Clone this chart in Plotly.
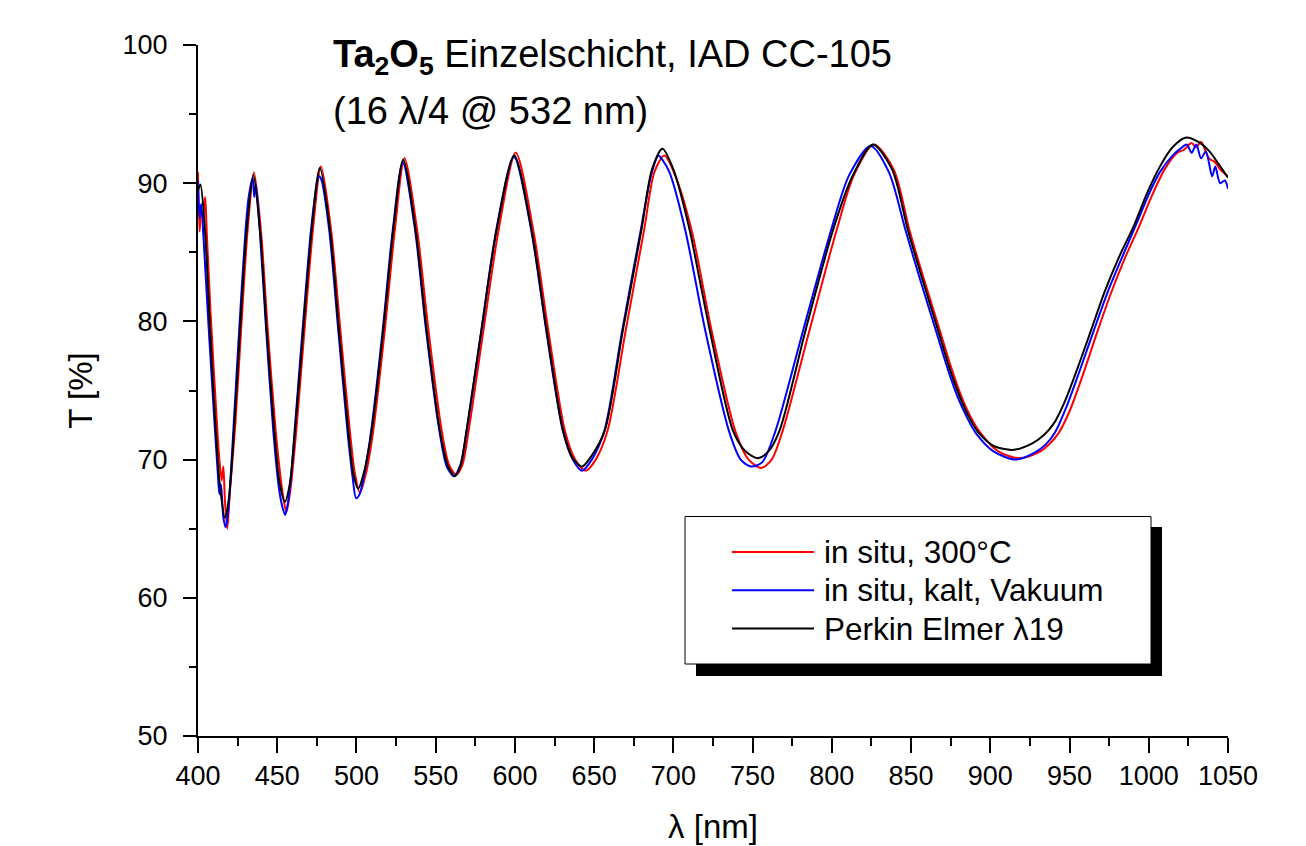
import plotly.graph_objects as go

# ---- data ----
wl_red = [400, 401, 402, 403, 404.5, 405.5, 408, 411.5, 413.5, 415, 416, 417, 418.5, 420, 423.5, 427.2, 431.3, 435.3,
          439.7, 444, 449, 452, 453.5, 455.8, 458.5, 462, 467.2, 472.5, 477.6, 484, 489.8, 495.8, 499, 502.2, 506,
          510.6, 517.9, 524.2, 530.3, 538.3, 545.4, 553.8, 558.5, 563, 566.8, 570.8, 580.2, 589.7, 600.5, 611.6,
          621, 631.5, 638, 644.7, 651, 658.5, 670, 681.5, 688, 694.3, 701, 711.5, 724, 739, 747.5, 755.5, 762, 769,
          786, 803, 814, 826.5, 839, 849, 858, 868, 875.5, 882, 888, 894, 905, 918.5, 930, 937, 943, 950, 958, 968,
          976, 985, 994, 1002, 1010, 1018, 1022, 1027, 1030, 1033, 1038, 1042, 1045, 1050]
t_red = [90.8, 86.5, 88.0, 87.5, 89.0, 86.5, 80.5, 73.5, 70.0, 68.5, 69.5, 67.0, 65.0, 67.5, 72.5, 79.4, 86.6, 90.8,
         86.6, 79.4, 72.1, 68.8, 67.5, 66.2, 68.0, 72.1, 79.4, 86.6, 91.2, 86.6, 79.4, 72.1, 69.0, 67.6, 69.0,
         72.1, 79.4, 86.6, 91.8, 86.6, 79.4, 72.1, 69.6, 68.9, 69.6, 72.1, 79.4, 86.6, 92.2, 86.6,
         79.4, 72.1, 70.0, 69.2, 70.0, 72.1, 79.4, 86.6, 90.8, 92.0, 90.6, 86.6, 79.4, 72.1, 70.0, 69.4, 70.0, 72.1,
         79.4, 86.6, 90.6, 92.8, 91.0, 86.6, 83.1, 79.4, 76.6, 74.5, 73.0, 71.9, 70.6, 70.1, 70.5, 71.1, 71.9, 73.5,
         76.0, 79.4, 82.0, 84.6, 86.9, 89.1, 91.0, 92.2, 92.4, 92.9, 92.6, 93.0, 91.8, 91.5, 91.0, 90.5]

wl_blue = [400, 401, 402, 403.5, 406.5, 410.5, 412.5, 413.5, 414.5, 416, 417.5, 419, 421.5, 422.5, 426, 430, 432,
           434.5, 435.5, 436.5, 439, 443, 447.5, 451, 453, 455, 456.5, 458.5, 461, 466, 471.3, 475.5, 476.5, 478,
           482.8, 488.5, 494.3, 497.5, 499.8, 502, 505, 509.3, 516.6, 522.9, 529.2, 537, 543.9, 552.3, 557, 561.5,
           565.5, 569.5, 578.9, 588.2, 599.4, 610.3, 619.7, 630.2, 636.5, 642.3, 648.5, 656.5, 667.8, 679.4, 686,
           690.5, 693, 697.5, 707.5, 720, 735, 742.5, 749, 756, 764.5, 782, 799.5, 811, 824.5, 836, 846.5, 855.5,
           865.5, 873, 879.5, 885.5, 891, 902, 916, 928, 935, 941, 948, 956, 965.5, 974, 983, 992, 1000, 1007, 1015,
           1020, 1024, 1027, 1030, 1033, 1036, 1040, 1042, 1045, 1048, 1050]
t_blue = [90.2, 87.5, 88.5, 86.0, 80.0, 72.5, 69.0, 67.5, 68.2, 65.8, 65.1, 66.2, 70.5, 72.5, 79.4, 86.6, 89.0,
          90.4, 89.0, 89.9, 86.6, 79.4, 72.1, 68.0, 66.7, 66.0, 66.7, 68.5, 72.1, 79.4, 86.6, 90.3, 90.5, 90.2,
          86.6, 79.4, 72.1, 68.8, 67.2, 67.5, 69.0, 72.1, 79.4, 86.6, 91.5, 86.6, 79.4, 72.1, 69.5, 68.8,
          69.6, 72.1, 79.4, 86.6, 91.9, 86.6, 79.4, 72.1, 70.0, 69.2, 70.0, 72.1, 79.4, 86.6, 90.6,
          92.0, 91.7, 90.8, 86.6, 79.4, 72.1, 70.0, 69.5, 69.8, 72.1, 79.4, 86.6, 90.6, 92.7, 90.8, 86.6, 83.1,
          79.4, 76.6, 74.5, 73.0, 71.9, 70.6, 70.0, 70.5, 71.1, 72.0, 73.8, 76.3, 79.4, 82.1, 84.6, 87.0, 89.2, 90.8,
          92.0, 92.5, 92.8, 92.2, 92.8, 91.8, 92.3, 90.5, 91.2, 90.0, 90.2, 89.6]

wl_black = [400, 401.5, 404.4, 407.6, 411.2, 413.9, 417.0, 419.5, 422.7, 426.5, 430.7, 434.9, 439.1, 443.3, 448.1,
            451.5, 454.9, 458, 461.2, 466.4, 471.7, 476.9, 483.3, 488.9, 494.8, 498, 501.1, 505, 509.6, 516.9, 523.2,
            529.5, 537.3, 544.2, 552.6, 557.5, 562.1, 565.8, 569.5, 578.9, 588.4, 599.5, 610.5, 619.9, 630.4, 636.5,
            642.4, 648.5, 656.7, 668.2, 679.8, 686.5, 693.1, 700, 710.3, 716.6, 722.9, 737.6, 745.5, 753.4, 760, 767,
            783.5, 800.7, 813, 825.9, 838, 848, 857, 866.9, 874.3, 880.6, 886, 892.2, 902, 914.2, 926.8, 934, 940,
            947, 955, 963.7, 972, 981, 990.5, 999, 1007, 1015, 1023.6, 1031, 1038.3, 1044, 1050]
t_black = [89.5, 89.9, 86.6, 79.4, 72.1, 68.0, 65.8, 67.2, 72.1, 79.4, 86.6, 90.6, 86.6, 79.4, 72.1,
           68.3, 66.95, 68.3, 72.1, 79.4, 86.6, 91.1, 86.6, 79.4, 72.1, 69.0, 67.9, 69.2, 72.1, 79.4, 86.6,
           91.7, 86.6, 79.4, 72.1, 69.6, 68.8, 69.6, 72.1, 79.4, 86.6, 92.0, 86.6, 79.4, 72.1, 70.1,
           69.5, 70.3, 72.1, 79.4, 86.6, 91.0, 92.5, 91.0, 86.6, 83.0, 79.4, 72.1, 70.6, 70.1, 70.6, 72.1,
           79.4, 86.6, 90.5, 92.8, 91.0, 86.6, 83.1, 79.4, 76.6, 74.6, 73.2, 72.0, 71.0, 70.7, 71.2, 71.8, 72.6,
           74.2, 76.6, 79.4, 82.1, 84.6, 86.9, 89.3, 91.2, 92.6, 93.3, 93.0, 92.3, 91.4, 90.4]

series_names = ["in situ, 300°C", "in situ, kalt, Vakuum", "Perkin Elmer λ19"]
series_colors = ["#ff0000", "#0000ff", "#000000"]
x_ticks = list(range(400, 1051, 50))
y_ticks = list(range(50, 101, 10))

FONT = "Arial, 'Liberation Sans', sans-serif"

fig = go.Figure()
for wl, t, name, col in zip([wl_red, wl_blue, wl_black], [t_red, t_blue, t_black], series_names, series_colors):
    fig.add_trace(go.Scatter(x=wl, y=t, mode="lines", name=name,
                             line=dict(color=col, width=2, shape="spline", smoothing=0.8),
                             showlegend=False))

axis_common = dict(showline=True, linecolor="black", linewidth=2, ticks="outside", tickwidth=2,
                   tickcolor="black", showgrid=False, zeroline=False, mirror=False,
                   tickfont=dict(family=FONT, size=27, color="black"))

fig.update_xaxes(range=[400, 1050], tickvals=x_ticks, ticklen=15,
                 minor=dict(dtick=25, ticks="outside", ticklen=8, tickwidth=2, tickcolor="black", showgrid=False),
                 title=dict(text="λ [nm]", font=dict(family=FONT, size=33, color="black"), standoff=24),
                 ticklabelstandoff=0, **axis_common)
fig.update_yaxes(range=[50, 100], tickvals=y_ticks, ticklen=13,
                 minor=dict(dtick=5, ticks="outside", ticklen=7, tickwidth=2, tickcolor="black", showgrid=False),
                 title=dict(text="T [%]", font=dict(family=FONT, size=33, color="black"), standoff=20),
                 ticklabelstandoff=10, **axis_common)

L, R, T, B = 198, 78, 45, 110
W, H = 1306, 846
pw, ph = W - L - R, H - T - B


def px2x(px):
    return (px - L) / pw


def px2y(py):
    return (H - B - py) / ph


shapes = [
    dict(type="rect", xref="paper", yref="paper", x0=px2x(696), x1=px2x(1162), y0=px2y(676), y1=px2y(527),
         fillcolor="black", line=dict(width=0)),
    dict(type="rect", xref="paper", yref="paper", x0=px2x(685), x1=px2x(1151), y0=px2y(664), y1=px2y(516.5),
         fillcolor="white", line=dict(color="black", width=1)),
]
annotations = []
for i, (name, col) in enumerate(zip(series_names, series_colors)):
    yy = px2y(552 + 38.3 * i)
    shapes.append(dict(type="line", xref="paper", yref="paper", x0=px2x(732), x1=px2x(814), y0=yy, y1=yy,
                       line=dict(color=col, width=2)))
    annotations.append(dict(text=name, xref="paper", yref="paper", x=px2x(822), y=yy, xanchor="left",
                            yanchor="middle", showarrow=False, font=dict(family=FONT, size=31.5, color="black")))

annotations.append(dict(text="<b>Ta<sub>2</sub>O<sub>5</sub></b> Einzelschicht, IAD CC-105", xref="paper",
                        yref="paper", x=px2x(331), y=px2y(57), xanchor="left", yanchor="middle", showarrow=False,
                        font=dict(family=FONT, size=38, color="black")))
annotations.append(dict(text="(16 λ/4 @ 532 nm)", xref="paper", yref="paper", x=px2x(331), y=px2y(111),
                        xanchor="left", yanchor="middle", showarrow=False,
                        font=dict(family=FONT, size=38, color="black")))

fig.update_layout(width=W, height=H, margin=dict(l=L, r=R, t=T, b=B, autoexpand=False),
                  paper_bgcolor="white", plot_bgcolor="white", shapes=shapes, annotations=annotations,
                  font=dict(family=FONT, color="black"))

fig.write_html("out.html")
